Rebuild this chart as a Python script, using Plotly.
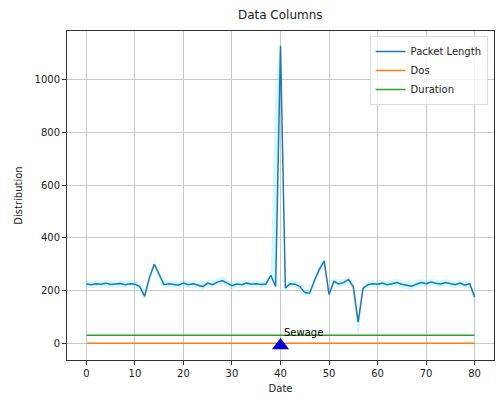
import plotly.graph_objects as go

x_vals = list(range(81))
packet_length = [225, 222, 226, 224, 228, 223, 225, 227, 222, 226,
                 224, 215, 178, 250, 300, 262, 222, 226, 224, 220,
                 228, 222, 226, 220, 215, 228, 222, 232, 238, 228,
                 218, 225, 222, 228, 224, 226, 223, 225, 258, 215,
                 1130, 210, 226, 224, 215, 192, 190, 238, 280, 312,
                 185, 235, 225, 230, 242, 215, 80, 208, 222, 226,
                 224, 228, 222, 226, 230, 224, 220, 216, 224, 230,
                 226, 232, 228, 225, 230, 226, 222, 228, 220, 226, 175]
dos = [0] * 81
duration = [30] * 81
band_offset = 14
band_hi_over = {39: 1000}
band_lo_over = {56: 10}
marker_x = [40]
marker_y = [-9]
annot_text = "Sewage"
annot_x = 40.3
annot_y = 40

band_hi = [band_hi_over.get(i, v + band_offset) for i, v in enumerate(packet_length)]
band_lo = [band_lo_over.get(i, v - band_offset) for i, v in enumerate(packet_length)]

fig = go.Figure()
fig.add_trace(go.Scatter(x=x_vals, y=band_hi, mode="lines", line=dict(width=0),
                         showlegend=False, hoverinfo="skip"))
fig.add_trace(go.Scatter(x=x_vals, y=band_lo, mode="lines", line=dict(width=0),
                         fill="tonexty", fillcolor="rgba(0,220,255,0.18)",
                         showlegend=False, hoverinfo="skip"))
fig.add_trace(go.Scatter(x=x_vals, y=packet_length, mode="lines", name="Packet Length",
                         line=dict(color="#1f77b4", width=1.5)))
fig.add_trace(go.Scatter(x=x_vals, y=dos, mode="lines", name="Dos",
                         line=dict(color="#ff7f0e", width=1.5)))
fig.add_trace(go.Scatter(x=x_vals, y=duration, mode="lines", name="Duration",
                         line=dict(color="#2ca02c", width=1.5)))
fig.add_trace(go.Scatter(x=marker_x, y=marker_y, mode="markers", showlegend=False,
                         marker=dict(symbol="triangle-up", size=15, color="#0000cc")))
fig.add_annotation(x=annot_x, y=annot_y, text=annot_text, showarrow=False,
                   xanchor="left", yanchor="middle",
                   font=dict(size=10, color="black"))

axis_common = dict(showgrid=True, gridcolor="#c8c8c8", gridwidth=0.8,
                   showline=True, linecolor="#333333", linewidth=1, mirror=True,
                   ticks="outside", ticklen=4, tickcolor="#333333", zeroline=False,
                   tickfont=dict(size=10, color="#222222"))

fig.update_layout(
    width=496, height=398,
    margin=dict(l=67, r=2, t=31, b=38),
    paper_bgcolor="white", plot_bgcolor="white",
    font=dict(family="DejaVu Sans", size=10, color="#222222"),
    title=dict(text="Data Columns", x=0.565, xanchor="center", y=0.962, yanchor="middle",
               font=dict(size=12, color="#222222")),
    legend=dict(x=0.985, y=0.985, xanchor="right", yanchor="top", traceorder="normal",
                bgcolor="rgba(255,255,255,0.8)", bordercolor="#dddddd", borderwidth=1,
                font=dict(size=10), tracegroupgap=0),
    xaxis=dict(range=[-4, 84], tickvals=list(range(0, 81, 10)),
               title=dict(text="Date", standoff=6, font=dict(size=10)), **axis_common),
    yaxis=dict(range=[-64, 1186], tickvals=list(range(0, 1001, 200)),
               title=dict(text="Distribution", standoff=10, font=dict(size=10)), **axis_common),
)

fig.write_html("out.html")
